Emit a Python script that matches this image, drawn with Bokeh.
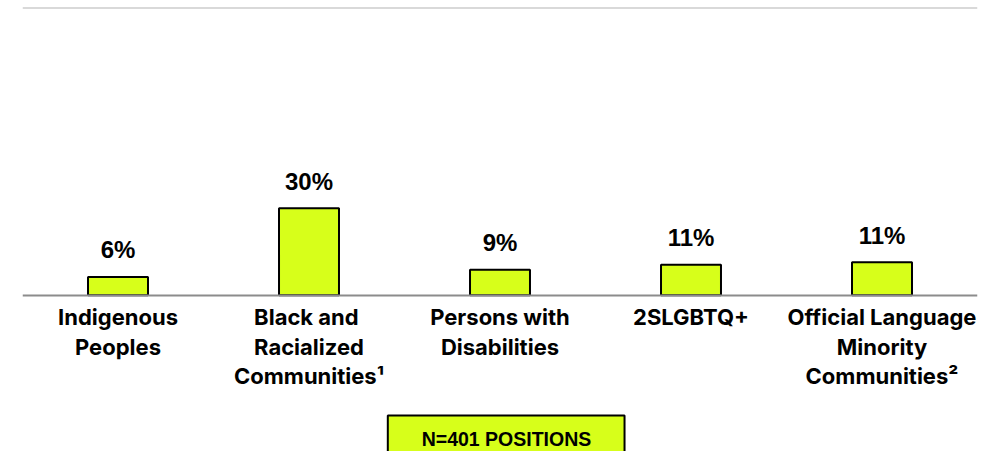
from bokeh.plotting import figure
from bokeh.models import ColumnDataSource, Range1d, FixedTicker, Span, BoxAnnotation, Label
from bokeh.core.properties import value
from bokeh.embed import file_html
from bokeh.resources import INLINE

categories = ["Indigenous\nPeoples", "Black  and\nRacialized\nCommunities\u00b9",
              "Persons with\nDisabilities", "2SLGBTQ+",
              "Official Language\nMinority\nCommunities\u00b2"]
values = [6.3, 30.0, 8.8, 10.5, 11.4]
pct_labels = ["6%", "30%", "9%", "11%", "11%"]
note_text = "N=401 POSITIONS"

LIME = "#D7FF1A"
xs = list(range(len(categories)))
src = ColumnDataSource(dict(x=xs, top=values, label=pct_labels))

p = figure(width=983, height=451, output_backend="svg", toolbar_location=None,
           x_range=Range1d(-0.5, len(categories) - 0.5), y_range=Range1d(-53.9, 101.62),
           min_border_left=22, min_border_right=6, min_border_top=0, min_border_bottom=0)
p.outline_line_color = None
p.xgrid.visible = False
p.ygrid.visible = False
p.yaxis.visible = False

p.vbar(x="x", top="top", bottom=0, width=0.314, source=src,
       fill_color=LIME, line_color="#000000", line_width=2)
p.text(x="x", y="top", text="label", source=src, text_align="center",
       text_baseline="alphabetic", y_offset=-27,
       text_font=value("Liberation Sans"), text_font_style="bold",
       text_font_size="24px", text_color="#000000")

ax = p.xaxis[0]
ax.fixed_location = 0
ax.ticker = FixedTicker(ticks=xs)
ax.major_label_overrides = {i: c for i, c in zip(xs, categories)}
ax.major_tick_line_color = None
ax.minor_tick_line_color = None
ax.axis_line_color = "#8C8C8C"
ax.axis_line_width = 2
ax.major_label_text_font = "Inter"
ax.major_label_text_font_style = "bold"
ax.major_label_text_font_size = "22px"
ax.major_label_text_color = "#000000"
ax.major_label_text_line_height = 1.13
ax.major_label_standoff = 3

p.add_layout(Span(location=99.03, dimension="width", line_color="#D9D9D9", line_width=2))
p.add_layout(BoxAnnotation(left=1.4126, right=2.652, top=-41.5, bottom=-70,
                           fill_color=LIME, fill_alpha=1.0,
                           line_color="#000000", line_width=2, line_alpha=1.0))
p.add_layout(Label(x=2.034, y=-49.66, text=note_text, text_align="center",
                   text_baseline="middle", text_font="Liberation Sans",
                   text_font_style="bold", text_font_size="19.5px", text_color="#000000"))

open("out.html", "w").write(file_html(p, INLINE))
